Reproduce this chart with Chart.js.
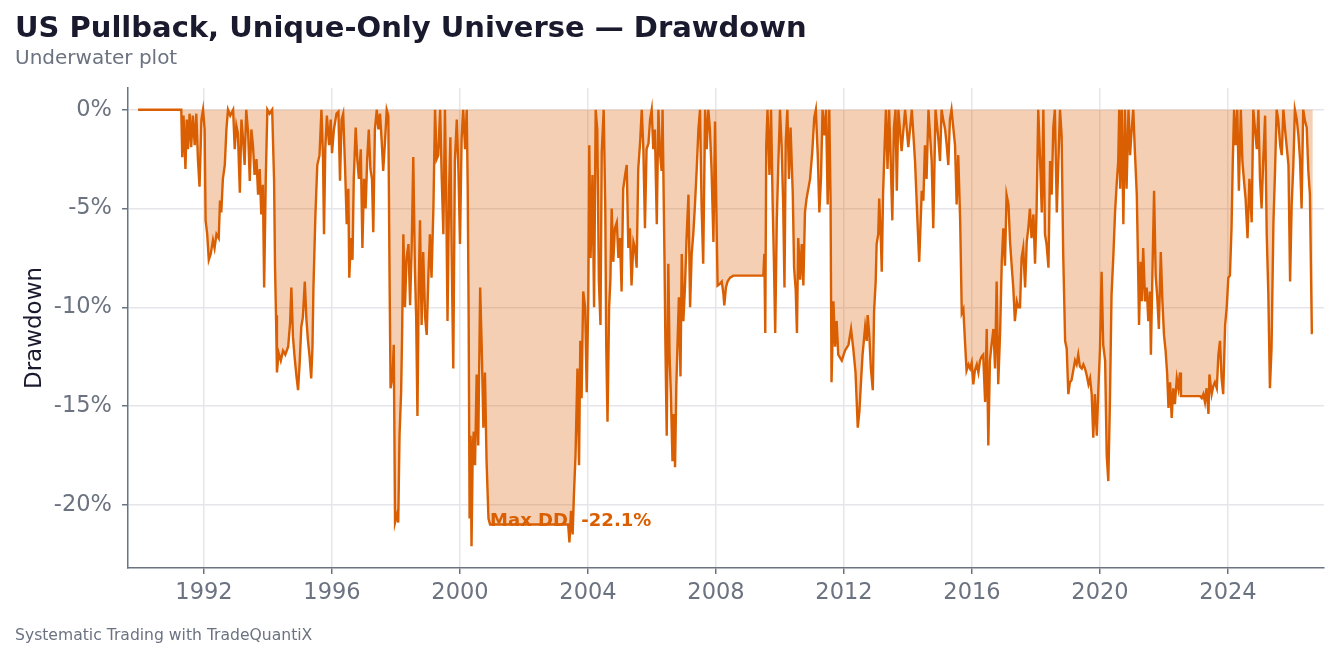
<!DOCTYPE html>
<html>
<head>
<meta charset="utf-8">
<script src="https://cdn.jsdelivr.net/npm/chart.js@4.4.1/dist/chart.umd.min.js"></script>
<style>
  html, body { margin: 0; padding: 0; background: #ffffff; }
  #chart { display: block; }
</style>
</head>
<body>
<canvas id="chart" width="1339" height="657"></canvas>
<script>
// drawdown series (decimal year, % below peak)
const ddDates = [
  1989.94, 1991.29, 1991.32, 1991.36, 1991.42, 1991.46, 1991.50, 1991.55, 1991.60, 1991.65,
  1991.71, 1991.76, 1991.81, 1991.86, 1991.92, 1991.97, 1992.02, 1992.05, 1992.10, 1992.15,
  1992.21, 1992.28, 1992.33, 1992.39, 1992.46, 1992.50, 1992.54, 1992.59, 1992.65, 1992.70,
  1992.75, 1992.82, 1992.91, 1992.96, 1993.01, 1993.06, 1993.12, 1993.17, 1993.22, 1993.27,
  1993.32, 1993.38, 1993.43, 1993.48, 1993.53, 1993.58, 1993.64, 1993.69, 1993.74, 1993.79,
  1993.84, 1993.88, 1993.93, 1993.98, 1994.05, 1994.13, 1994.19, 1994.22, 1994.25, 1994.28,
  1994.33, 1994.40, 1994.47, 1994.54, 1994.63, 1994.69, 1994.73, 1994.78, 1994.83, 1994.89,
  1994.94, 1994.99, 1995.04, 1995.09, 1995.15, 1995.20, 1995.25, 1995.30, 1995.35, 1995.39,
  1995.42, 1995.48, 1995.54, 1995.61, 1995.67, 1995.72, 1995.75, 1995.79, 1995.84, 1995.91,
  1995.96, 1996.00, 1996.06, 1996.14, 1996.20, 1996.25, 1996.30, 1996.35, 1996.41, 1996.46,
  1996.51, 1996.54, 1996.59, 1996.64, 1996.68, 1996.74, 1996.79, 1996.84, 1996.90, 1996.95,
  1997.00, 1997.05, 1997.10, 1997.15, 1997.20, 1997.25, 1997.29, 1997.34, 1997.40, 1997.45,
  1997.50, 1997.55, 1997.60, 1997.66, 1997.71, 1997.76, 1997.80, 1997.83, 1997.89, 1997.93,
  1997.97, 1998.03, 1998.07, 1998.11, 1998.16, 1998.19, 1998.23, 1998.28, 1998.33, 1998.39,
  1998.44, 1998.49, 1998.54, 1998.59, 1998.63, 1998.67, 1998.71, 1998.75, 1998.80, 1998.85,
  1998.91, 1998.96, 1999.01, 1999.06, 1999.11, 1999.17, 1999.22, 1999.27, 1999.32, 1999.38,
  1999.43, 1999.48, 1999.53, 1999.57, 1999.61, 1999.66, 1999.70, 1999.74, 1999.79, 1999.84,
  1999.90, 1999.95, 2000.00, 2000.05, 2000.10, 2000.16, 2000.21, 2000.24, 2000.27, 2000.30,
  2000.33, 2000.36, 2000.40, 2000.43, 2000.47, 2000.52, 2000.57, 2000.63, 2000.68, 2000.73,
  2000.78, 2000.83, 2000.89, 2000.94, 2003.38, 2003.42, 2003.47, 2003.52, 2003.56, 2003.61,
  2003.67, 2003.72, 2003.76, 2003.80, 2003.85, 2003.91, 2003.96, 2004.01, 2004.04, 2004.08,
  2004.14, 2004.19, 2004.24, 2004.29, 2004.34, 2004.39, 2004.43, 2004.49, 2004.54, 2004.57,
  2004.61, 2004.66, 2004.70, 2004.74, 2004.79, 2004.84, 2004.90, 2004.95, 2005.00, 2005.05,
  2005.10, 2005.16, 2005.21, 2005.26, 2005.31, 2005.36, 2005.42, 2005.47, 2005.52, 2005.57,
  2005.63, 2005.68, 2005.73, 2005.78, 2005.83, 2005.89, 2005.94, 2005.99, 2006.04, 2006.09,
  2006.15, 2006.20, 2006.25, 2006.30, 2006.33, 2006.39, 2006.42, 2006.46, 2006.51, 2006.55,
  2006.59, 2006.64, 2006.68, 2006.72, 2006.76, 2006.80, 2006.84, 2006.89, 2006.93, 2006.98,
  2007.03, 2007.08, 2007.14, 2007.19, 2007.24, 2007.29, 2007.34, 2007.40, 2007.45, 2007.50,
  2007.55, 2007.60, 2007.66, 2007.71, 2007.76, 2007.81, 2007.86, 2007.92, 2007.97, 2008.01,
  2008.05, 2008.13, 2008.18, 2008.23, 2008.26, 2008.31, 2008.36, 2008.44, 2008.54, 2009.48,
  2009.51, 2009.54, 2009.57, 2009.61, 2009.67, 2009.72, 2009.77, 2009.81, 2009.85, 2009.90,
  2009.95, 2010.00, 2010.05, 2010.10, 2010.14, 2010.18, 2010.23, 2010.28, 2010.33, 2010.40,
  2010.44, 2010.49, 2010.53, 2010.57, 2010.63, 2010.68, 2010.73, 2010.78, 2010.83, 2010.94,
  2011.01, 2011.07, 2011.12, 2011.18, 2011.23, 2011.28, 2011.33, 2011.39, 2011.44, 2011.49,
  2011.54, 2011.58, 2011.61, 2011.67, 2011.72, 2011.77, 2011.82, 2011.93, 2012.03, 2012.14,
  2012.22, 2012.29, 2012.36, 2012.43, 2012.48, 2012.53, 2012.58, 2012.66, 2012.71, 2012.74,
  2012.79, 2012.84, 2012.90, 2012.94, 2012.99, 2013.02, 2013.07, 2013.10, 2013.15, 2013.18,
  2013.22, 2013.26, 2013.31, 2013.36, 2013.41, 2013.46, 2013.51, 2013.56, 2013.61, 2013.65,
  2013.70, 2013.80, 2013.91, 2014.01, 2014.12, 2014.22, 2014.30, 2014.35, 2014.43, 2014.48,
  2014.53, 2014.58, 2014.64, 2014.74, 2014.79, 2014.86, 2014.95, 2015.00, 2015.05, 2015.10,
  2015.16, 2015.21, 2015.26, 2015.31, 2015.36, 2015.42, 2015.47, 2015.52, 2015.57, 2015.63,
  2015.68, 2015.73, 2015.78, 2015.83, 2015.89, 2015.94, 2015.99, 2016.04, 2016.09, 2016.15,
  2016.20, 2016.25, 2016.30, 2016.35, 2016.41, 2016.46, 2016.51, 2016.56, 2016.61, 2016.67,
  2016.72, 2016.77, 2016.82, 2016.88, 2016.93, 2016.98, 2017.03, 2017.08, 2017.14, 2017.19,
  2017.24, 2017.29, 2017.34, 2017.40, 2017.45, 2017.50, 2017.55, 2017.60, 2017.66, 2017.71,
  2017.76, 2017.81, 2017.86, 2017.92, 2017.97, 2018.02, 2018.07, 2018.13, 2018.18, 2018.23,
  2018.28, 2018.33, 2018.39, 2018.44, 2018.49, 2018.54, 2018.59, 2018.65, 2018.70, 2018.75,
  2018.80, 2018.85, 2018.91, 2018.96, 2019.01, 2019.06, 2019.11, 2019.22, 2019.27, 2019.32,
  2019.37, 2019.43, 2019.48, 2019.53, 2019.58, 2019.64, 2019.69, 2019.74, 2019.79, 2019.84,
  2019.90, 2019.95, 2020.00, 2020.05, 2020.10, 2020.16, 2020.21, 2020.26, 2020.31, 2020.36,
  2020.42, 2020.47, 2020.52, 2020.57, 2020.60, 2020.63, 2020.68, 2020.73, 2020.78, 2020.83,
  2020.89, 2020.94, 2020.99, 2021.04, 2021.09, 2021.15, 2021.18, 2021.22, 2021.27, 2021.31,
  2021.35, 2021.41, 2021.46, 2021.51, 2021.56, 2021.59, 2021.65, 2021.69, 2021.74, 2021.79,
  2021.84, 2021.90, 2021.95, 2022.00, 2022.05, 2022.10, 2022.14, 2022.19, 2022.24, 2022.29,
  2022.34, 2022.40, 2022.45, 2022.50, 2022.53, 2023.13, 2023.18, 2023.23, 2023.28, 2023.33,
  2023.39, 2023.42, 2023.49, 2023.54, 2023.59, 2023.65, 2023.70, 2023.75, 2023.80, 2023.85,
  2023.91, 2023.96, 2024.01, 2024.06, 2024.11, 2024.15, 2024.19, 2024.24, 2024.29, 2024.34,
  2024.40, 2024.45, 2024.50, 2024.55, 2024.61, 2024.67, 2024.74, 2024.79, 2024.84, 2024.90,
  2024.95, 2025.00, 2025.05, 2025.10, 2025.16, 2025.21, 2025.26, 2025.31, 2025.36, 2025.42,
  2025.47, 2025.52, 2025.57, 2025.63, 2025.68, 2025.73, 2025.80, 2025.89, 2025.94, 2025.99,
  2026.04, 2026.09, 2026.15, 2026.20, 2026.25, 2026.30, 2026.35, 2026.41, 2026.46, 2026.51,
  2026.56, 2026.62, 2026.65
];
const ddValues = [
  0, 0, -2.4, -0.3, -3.0, -0.5, -2.0, -0.2, -1.9, -0.3,
  -1.8, -0.2, -2.5, -3.9, -0.5, 0, -1.0, -5.6, -6.3, -7.6,
  -7.3, -6.6, -7.0, -6.3, -6.5, -4.6, -5.2, -3.5, -2.8, -1.0,
  0, -0.3, 0, -2.0, -0.8, -1.2, -4.2, -0.5, -1.5, -2.8,
  0, -1.2, -3.6, -1.0, -1.8, -3.3, -2.5, -4.3, -3.0, -5.3,
  -3.8, -9.0, -3.5, 0, -0.2, 0, -3.6, -8.0, -10.4, -13.3,
  -12.3, -12.7, -12.2, -12.4, -12.0, -10.8, -9.0, -11.5, -12.5, -13.5,
  -14.2, -12.8, -11.0, -10.5, -8.7, -10.6, -11.7, -12.5, -13.6, -12.0,
  -9.0, -5.4, -2.8, -2.3, 0, -2.5, -6.3, -2.0, -0.3, -1.8,
  -0.5, -2.2, -1.0, -0.2, -0.1, -3.6, -0.5, -0.2, -3.0, -5.8,
  -4.0, -8.5, -6.5, -7.6, -3.5, -0.9, -2.5, -3.5, -2.0, -7.0,
  -3.5, -5.0, -2.5, -1.0, -3.0, -3.5, -6.2, -1.0, 0, -1.0,
  -0.2, -1.5, -3.1, -1.5, 0, -0.3, -8.7, -14.1, -13.5, -11.9,
  -20.9, -20.5, -20.9, -16.5, -14.3, -11.4, -6.3, -10.0, -7.5, -6.8,
  -9.9, -7.0, -2.4, -8.0, -10.5, -15.5, -9.0, -5.6, -10.9, -7.2,
  -10.5, -11.4, -8.5, -6.3, -8.5, -4.9, 0, -2.5, -2.3, 0,
  -3.5, -6.3, 0, -4.5, -10.7, -4.0, -1.4, -7.4, -13.1, -2.6,
  -0.5, -3.0, -6.8, -1.5, 0, -2.0, 0, -3.8, -10.4, -20.7,
  -16.5, -22.1, -17.0, -16.3, -18.0, -13.4, -17.0, -9.0, -12.1, -16.1,
  -13.3, -17.8, -20.7, -21.0, -21.0, -21.9, -20.3, -21.5, -19.5, -17.5,
  -13.1, -18.0, -11.7, -14.6, -9.2, -10.0, -14.3, -9.5, -1.8, -7.5,
  -3.3, -10.0, 0, -1.0, -8.7, -10.9, -2.1, 0, -5.0, -12.0,
  -15.8, -10.0, -8.6, -5.0, -7.7, -6.0, -5.7, -7.5, -6.5, -9.2,
  -4.0, -3.3, -2.8, -7.0, -6.0, -8.9, -6.7, -7.0, -8.0, -3.0,
  -1.6, 0, -2.0, -6.0, -2.0, -1.7, -0.5, 0, -2.0, -1.0,
  -5.8, 0, -2.2, -3.1, 0, -7.5, -12.0, -16.5, -7.8, -12.5,
  -14.4, -17.8, -15.4, -18.1, -14.0, -11.7, -9.5, -13.5, -7.3, -10.7,
  -9.0, -6.5, -4.3, -10.0, -7.3, -6.3, -4.9, -2.9, -1.0, 0,
  -4.9, -7.8, 0, -2.0, 0, -1.0, -3.0, -6.7, -0.6, -4.9,
  -8.9, -8.8, -8.7, -9.3, -9.9, -9.0, -8.7, -8.5, -8.4, -8.4,
  -7.3, -11.3, -1.8, 0, -3.3, 0, -4.7, -7.7, -11.3, -5.6,
  -2.6, 0, -1.8, -4.8, -9.0, -1.6, 0, -3.5, -0.9, -4.3,
  -8.0, -9.1, -11.3, -6.5, -8.6, -6.8, -8.9, -5.2, -4.5, -3.5,
  -2.1, -0.4, 0, -2.3, -5.2, -3.5, 0, -1.3, 0, -4.8,
  0, -4.6, -13.8, -9.7, -12.0, -10.7, -12.4, -12.7, -12.2, -11.9,
  -11.1, -12.1, -13.3, -16.1, -15.3, -13.8, -12.4, -11.0, -11.7, -10.4,
  -11.4, -13.1, -14.2, -10.2, -8.7, -6.8, -6.3, -4.5, -6.5, -8.2,
  -4.3, -2.3, 0, -3.0, 0, -2.6, -5.6, -0.9, 0, -4.1,
  0, -2.1, 0, -1.9, 0, -2.6, -5.8, -7.7, -4.1, -4.6,
  -1.8, -3.5, 0, -2.6, -6.0, 0, -1.5, -2.6, 0, -0.5,
  -1.0, -1.8, -2.8, -0.5, 0, -1.0, -1.8, -4.8, -2.3, -5.6,
  -10.3, -10.1, -11.7, -13.2, -12.9, -13.1, -12.8, -13.9, -13.2, -12.9,
  -13.3, -12.7, -12.5, -12.4, -14.8, -11.1, -17.0, -12.7, -11.9, -11.1,
  -13.1, -8.7, -13.9, -11.2, -7.7, -6.0, -7.9, -4.3, -4.8, -6.7,
  -7.9, -9.0, -10.7, -9.7, -10.0, -10.0, -7.5, -7.0, -9.0, -6.7,
  -6.0, -5.0, -6.5, -5.3, -7.8, -5.0, 0, -2.6, -5.2, 0,
  -6.3, -6.8, -8.0, -2.6, -4.3, -0.9, 0, -5.2, -2.6, 0,
  -1.3, -7.3, -11.7, -12.1, -14.4, -13.8, -13.7, -12.7, -12.9, -12.4,
  -13.0, -13.1, -12.9, -13.1, -13.4, -13.9, -13.6, -14.4, -16.6, -14.4,
  -16.5, -14.1, -12.1, -8.2, -11.9, -12.7, -17.5, -18.8, -14.8, -9.4,
  -7.3, -5.2, -3.8, -2.6, 0, -4.0, 0, -5.8, 0, -4.0,
  0, -2.3, -1.0, 0, -2.1, -4.3, -7.0, -10.9, -7.7, -9.7,
  -7.0, -9.7, -9.0, -10.7, -9.2, -12.4, -7.3, -4.1, -8.4, -9.5,
  -11.1, -7.2, -9.7, -11.4, -12.2, -13.4, -15.1, -13.8, -15.6, -14.1,
  -14.9, -13.6, -14.1, -13.3, -14.5, -14.5, -14.6, -14.4, -14.8, -14.1,
  -15.4, -13.4, -14.4, -14.0, -13.8, -14.1, -12.4, -11.7, -13.6, -14.4,
  -10.9, -10.0, -8.5, -8.4, -6.0, -2.6, 0, -1.8, 0, -4.1,
  0, -2.6, -3.6, -4.5, -6.5, -3.5, -5.7, 0, -0.9, -2.0,
  0, -3.5, -5.0, -2.6, -0.3, -6.3, -9.3, -14.1, -12.1, -5.7,
  -3.1, 0, -0.5, -1.8, -2.3, 0, -1.3, -2.8, -8.7, -4.8,
  -2.9, 0, -0.5, -1.3, -2.5, -5.0, 0, -0.6, -0.9, -3.1,
  -4.3, -11.3, -11.3
];
const xTicks = [1992, 1996, 2000, 2004, 2008, 2012, 2016, 2020, 2024];
const yTicks = [-20, -15, -10, -5, 0];
const maxDD = { year: 2000.94, level: -21.0, label: 'Max DD: -22.1%' };

const FONT = '"DejaVu Sans", "Liberation Sans", sans-serif';
const ORANGE = '#d95f02';
const GREY = '#6b7280';
const INK = '#1a1a2e';

const points = ddDates.map((d, i) => ({ x: d, y: ddValues[i] }));

const texts = {
  id: 'texts',
  afterDatasetsDraw(chart) {
    const { ctx, scales } = chart;
    ctx.save();
    ctx.fillStyle = ORANGE;
    ctx.font = 'bold 18px ' + FONT;
    ctx.textAlign = 'left';
    ctx.textBaseline = 'alphabetic';
    ctx.fillText(maxDD.label, scales.x.getPixelForValue(maxDD.year), scales.y.getPixelForValue(maxDD.level) + 1);
    ctx.restore();
  },
  afterDraw(chart) {
    const ctx = chart.ctx;
    ctx.save();
    ctx.textAlign = 'left';
    ctx.textBaseline = 'alphabetic';
    ctx.fillStyle = INK;
    ctx.font = 'bold 29px ' + FONT;
    ctx.fillText('US Pullback, Unique-Only Universe \u2014 Drawdown', 15, 37);
    ctx.fillStyle = GREY;
    ctx.font = '20px ' + FONT;
    ctx.fillText('Underwater plot', 15, 64);
    ctx.font = '15.6px ' + FONT;
    ctx.fillText('Systematic Trading with TradeQuantiX', 15, 640);
    ctx.restore();
  }
};

new Chart(document.getElementById('chart'), {
  type: 'line',
  data: {
    datasets: [{
      data: points,
      borderColor: ORANGE,
      borderWidth: 2.4,
      backgroundColor: 'rgba(217,95,2,0.3)',
      fill: 'origin',
      pointRadius: 0,
      tension: 0
    }]
  },
  options: {
    responsive: false,
    animation: false,
    devicePixelRatio: 1,
    parsing: false,
    layout: { padding: { top: 88, right: 15, left: 0, bottom: 0 } },
    plugins: { legend: { display: false }, tooltip: { enabled: false } },
    scales: {
      x: {
        type: 'linear',
        min: 1989.625,
        max: 2027.0,
        afterBuildTicks: s => { s.ticks = xTicks.map(v => ({ value: v })); },
        afterFit: s => { s.height = 89; },
        grid: { color: '#e6e6ea', lineWidth: 1.5, tickLength: 6, tickColor: GREY, tickWidth: 1.5 },
        border: { display: true, color: GREY, width: 1.5 },
        ticks: {
          color: GREY,
          font: { family: FONT, size: 22.5 },
          padding: 6,
          maxRotation: 0,
          callback: v => String(v)
        }
      },
      y: {
        type: 'linear',
        min: -23.2,
        max: 1.1,
        afterBuildTicks: s => { s.ticks = yTicks.map(v => ({ value: v })); },
        afterFit: s => { s.width = 128; },
        grid: { color: '#e6e6ea', lineWidth: 1.5, tickLength: 6, tickColor: GREY, tickWidth: 1.5 },
        border: { display: true, color: GREY, width: 1.5 },
        ticks: {
          color: GREY,
          font: { family: FONT, size: 22.5 },
          padding: 10,
          callback: v => v + '%'
        },
        title: {
          display: true,
          text: 'Drawdown',
          color: INK,
          font: { family: FONT, size: 23 },
          padding: { top: 21, bottom: 0 }
        }
      }
    }
  },
  plugins: [texts]
});
</script>
</body>
</html>
